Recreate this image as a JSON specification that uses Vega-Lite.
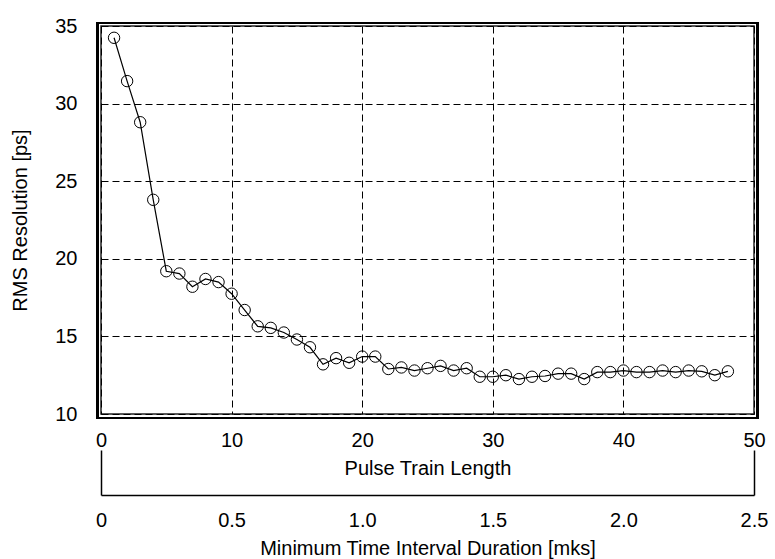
{
  "$schema": "https://vega.github.io/schema/vega-lite/v6.json",
  "width": 653,
  "height": 388,
  "autosize": {"type": "none"},
  "padding": {"left": 101, "top": 26, "right": 21, "bottom": 145},
  "background": "white",
  "config": {
    "font": "Liberation Sans",
    "view": {"stroke": "#222", "strokeWidth": 1.5},
    "axis": {"labelFont": "Liberation Sans", "titleFont": "Liberation Sans", "labelColor": "black", "titleColor": "black", "titleFontWeight": "normal", "labelFontSize": 20, "titleFontSize": 20}
  },
  "data": {
    "values": [
      {"n": 1, "rms": 34.24}, {"n": 2, "rms": 31.45}, {"n": 3, "rms": 28.8}, {"n": 4, "rms": 23.8},
      {"n": 5, "rms": 19.2}, {"n": 6, "rms": 19.05}, {"n": 7, "rms": 18.2}, {"n": 8, "rms": 18.7},
      {"n": 9, "rms": 18.5}, {"n": 10, "rms": 17.75}, {"n": 11, "rms": 16.7}, {"n": 12, "rms": 15.65},
      {"n": 13, "rms": 15.55}, {"n": 14, "rms": 15.25}, {"n": 15, "rms": 14.8}, {"n": 16, "rms": 14.3},
      {"n": 17, "rms": 13.2}, {"n": 18, "rms": 13.6}, {"n": 19, "rms": 13.3}, {"n": 20, "rms": 13.7},
      {"n": 21, "rms": 13.7}, {"n": 22, "rms": 12.9}, {"n": 23, "rms": 13.0}, {"n": 24, "rms": 12.8},
      {"n": 25, "rms": 12.95}, {"n": 26, "rms": 13.1}, {"n": 27, "rms": 12.8}, {"n": 28, "rms": 12.95},
      {"n": 29, "rms": 12.4}, {"n": 30, "rms": 12.4}, {"n": 31, "rms": 12.5}, {"n": 32, "rms": 12.25},
      {"n": 33, "rms": 12.4}, {"n": 34, "rms": 12.45}, {"n": 35, "rms": 12.6}, {"n": 36, "rms": 12.6},
      {"n": 37, "rms": 12.25}, {"n": 38, "rms": 12.7}, {"n": 39, "rms": 12.7}, {"n": 40, "rms": 12.8},
      {"n": 41, "rms": 12.7}, {"n": 42, "rms": 12.7}, {"n": 43, "rms": 12.8}, {"n": 44, "rms": 12.7},
      {"n": 45, "rms": 12.8}, {"n": 46, "rms": 12.75}, {"n": 47, "rms": 12.5}, {"n": 48, "rms": 12.75}
    ]
  },
  "resolve": {"scale": {"x": "independent", "y": "shared"}, "axis": {"x": "independent", "y": "shared"}},
  "layer": [
    {
      "mark": {"type": "rect", "fill": null, "filled": false, "stroke": "black", "strokeWidth": 2},
      "encoding": {
        "x": {"datum": -0.3, "type": "quantitative", "scale": {"domain": [0, 50], "nice": false, "zero": false},
              "axis": {"orient": "bottom", "offset": 81, "values": [0, 50], "domain": true, "domainColor": "black", "domainWidth": 1.5, "ticks": true, "tickSize": -45, "tickColor": "black", "tickWidth": 1.5, "labels": false, "grid": false, "title": null}},
        "x2": {"datum": 50.3},
        "y": {"datum": 35.2, "type": "quantitative", "scale": {"domain": [10, 35], "nice": false, "zero": false}, "title": "RMS Resolution  [ps]",
              "axis": {"orient": "left", "values": [10, 15, 20, 25, 30, 35], "domain": false, "ticks": false, "grid": true, "gridColor": "black", "gridDash": [7, 4], "gridWidth": 1, "gridOpacity": 1, "labelPadding": 24, "labelFontSize": 20, "titleFontSize": 20, "labelFlush": false, "labelOverlap": false, "labelBound": false, "titlePadding": 24}},
        "y2": {"datum": 9.75}
      }
    },
    {
      "mark": {"type": "line", "color": "black", "strokeWidth": 1.2},
      "encoding": {
        "x": {"field": "n", "type": "quantitative", "scale": {"domain": [0, 50], "nice": false, "zero": false},
              "axis": {"orient": "bottom", "values": [0, 10, 20, 30, 40, 50], "labelExpr": "datum.value == 0 ? '0' : format(datum.value / 20, '.1f')", "domain": false, "ticks": false, "grid": false, "labelPadding": 96, "labelFlush": false, "labelOverlap": false, "labelBound": false, "title": "Minimum Time Interval Duration [mks]", "titlePadding": 8}},
        "y": {"field": "rms", "type": "quantitative", "scale": {"domain": [10, 35], "nice": false, "zero": false}, "title": "RMS Resolution  [ps]",
              "axis": {"orient": "left", "values": [10, 15, 20, 25, 30, 35], "domain": false, "ticks": false, "grid": true, "gridColor": "black", "gridDash": [7, 4], "gridWidth": 1, "gridOpacity": 1, "labelPadding": 24, "labelFontSize": 20, "titleFontSize": 20, "labelFlush": false, "labelOverlap": false, "labelBound": false, "titlePadding": 24}}
      }
    },
    {
      "mark": {"type": "point", "shape": "circle", "filled": false, "stroke": "black", "strokeWidth": 1, "size": 130, "opacity": 1},
      "encoding": {
        "x": {"field": "n", "type": "quantitative", "scale": {"domain": [0, 50], "nice": false, "zero": false},
              "axis": {"orient": "bottom", "values": [0, 10, 20, 30, 40, 50], "domain": false, "ticks": false, "grid": true, "gridColor": "black", "gridDash": [7, 4], "gridWidth": 1, "gridOpacity": 1, "labelPadding": 16, "labelFlush": false, "labelOverlap": false, "labelBound": false, "title": "Pulse Train Length", "titlePadding": 8}},
        "y": {"field": "rms", "type": "quantitative", "scale": {"domain": [10, 35], "nice": false, "zero": false}, "title": "RMS Resolution  [ps]",
              "axis": {"orient": "left", "values": [10, 15, 20, 25, 30, 35], "domain": false, "ticks": false, "grid": true, "gridColor": "black", "gridDash": [7, 4], "gridWidth": 1, "gridOpacity": 1, "labelPadding": 24, "labelFontSize": 20, "titleFontSize": 20, "labelFlush": false, "labelOverlap": false, "labelBound": false, "titlePadding": 24}}
      }
    }
  ]
}
